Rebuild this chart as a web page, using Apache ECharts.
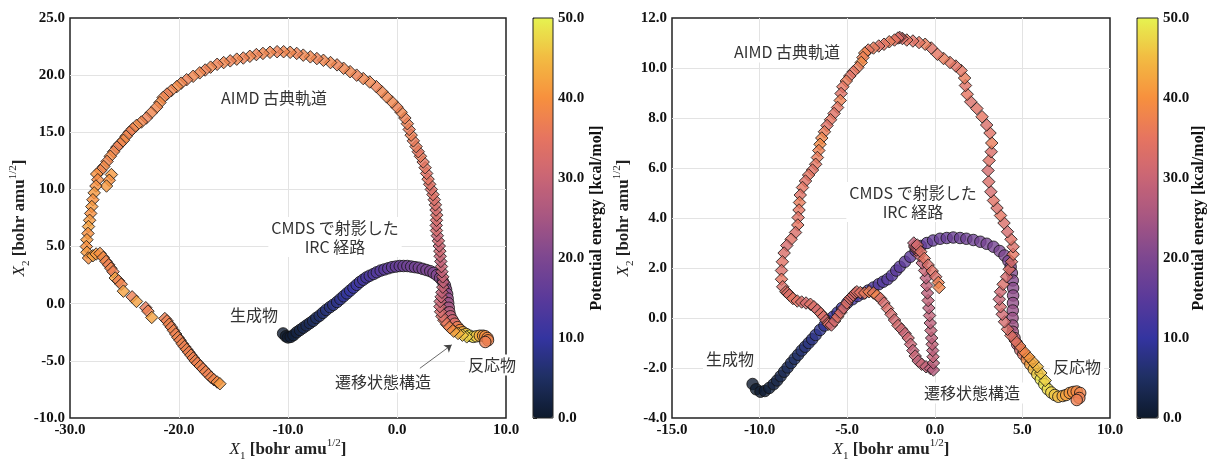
<!DOCTYPE html>
<html>
<head>
<meta charset="utf-8">
<script src="https://cdn.jsdelivr.net/npm/echarts/dist/echarts.min.js"></script>
<style>
html, body { margin: 0; padding: 0; background: #fff; }
#chart { width: 1209px; height: 459px; }
</style>
</head>
<body>
<div id="chart"></div>
<script>
// [X1, X2, potential energy (kcal/mol)]
var ircLeft = [
  [-10.45,-2.6,0.5],[-10.2,-2.85,0.3],[-10.0,-2.95,0.5],[-9.75,-2.9,1],[-9.5,-2.75,1.5],[-9.2,-2.5,2],
  [-8.9,-2.3,2.5],[-8.6,-2.1,3],[-8.3,-1.9,3.5],[-8.0,-1.7,4],[-7.7,-1.5,4.5],[-7.4,-1.25,5],
  [-7.1,-1.05,5.5],[-6.8,-0.8,6],[-6.5,-0.55,6.5],[-6.15,-0.3,7],[-5.85,-0.1,7.5],[-5.5,0.15,8],
  [-5.2,0.4,8.5],[-4.9,0.65,9],[-4.6,0.9,9.5],[-4.3,1.15,10],[-4.0,1.4,10.5],[-3.7,1.65,11],
  [-3.4,1.9,11.5],[-3.1,2.1,12],[-2.8,2.3,12.5],[-2.5,2.45,13],[-2.15,2.6,13.5],[-1.85,2.75,14],
  [-1.5,2.9,14.5],[-1.15,3.0,15],[-0.8,3.1,15.5],[-0.45,3.2,16],[-0.1,3.25,16.5],[0.25,3.3,17],
  [0.6,3.3,17.5],[0.95,3.3,18],[1.3,3.25,18],[1.65,3.2,18.5],[2.0,3.15,19],[2.35,3.05,19],
  [2.7,2.95,19.5],[3.05,2.85,20],[3.35,2.7,20],[3.65,2.5,20.5],[3.95,2.25,21],[4.2,1.95,21],
  [4.4,1.6,21.5],[4.5,1.25,22],[4.6,0.85,22.5],[4.65,0.45,23],[4.7,0.05,24],[4.75,-0.35,25],
  [4.8,-0.75,27],[4.9,-1.1,29],[5.1,-1.45,31],[5.3,-1.75,34],[5.55,-2.05,37],[5.8,-2.3,40],
  [6.05,-2.5,44],[6.35,-2.65,47],[6.65,-2.8,49],[7.0,-2.9,48],[7.3,-2.85,46],[7.6,-2.8,43],
  [7.9,-2.8,41],[8.1,-2.85,40],[8.3,-3.0,39],[8.35,-3.2,38],[8.1,-3.35,37]
];

var aimdLeft = [
  [6.4,-2.9,47],[6.0,-2.75,46],[5.6,-2.6,44],[5.2,-2.4,42],[4.85,-2.1,39],[4.55,-1.8,37],
  [4.3,-1.45,35],[4.12,-1.1,33],[4.0,-0.7,32],[3.94,-0.25,31],[3.96,0.2,30],[4.05,0.6,30],
  [4.12,1.0,29],[4.2,1.45,30],[4.25,1.9,29],[4.2,2.35,30],[4.12,2.8,29],[4.08,3.25,30],
  [4.02,3.7,29],[3.96,4.15,30],[3.93,4.6,31],[3.88,5.05,30],[3.8,5.5,31],[3.7,5.95,30],
  [3.62,6.4,32],[3.6,6.85,31],[3.62,7.3,32],[3.64,7.75,33],[3.58,8.2,32],[3.52,8.65,33],
  [3.42,9.1,33],[3.3,9.55,34],[3.15,10.0,33],[3.0,10.45,34],[2.85,10.9,35],[2.72,11.4,34],
  [2.58,11.9,35],[2.4,12.4,35],[2.15,12.9,36],[1.95,13.3,35],[1.75,13.75,36],[1.5,14.25,36],
  [1.3,14.75,37],[1.12,15.25,36],[0.95,15.75,37],[0.72,16.25,37],[0.38,16.75,38],[0.0,17.2,37],
  [-0.45,17.65,38],[-0.95,18.1,38],[-1.4,18.55,38],[-1.9,19.0,37],[-2.5,19.4,38],[-3.1,19.7,38],
  [-3.7,20.0,37],[-4.3,20.3,38],[-4.9,20.6,38],[-5.5,20.9,37],[-6.1,21.1,38],[-6.75,21.3,38],
  [-7.35,21.45,37],[-7.95,21.6,38],[-8.6,21.75,38],[-9.2,21.9,37],[-9.8,22.0,38],[-10.4,22.05,38],
  [-11.0,22.05,37],[-11.65,22.0,38],[-12.3,21.9,38],[-12.9,21.8,37],[-13.5,21.65,38],[-14.1,21.5,37],
  [-14.7,21.4,38],[-15.3,21.25,37],[-15.9,21.1,38],[-16.5,20.95,37],[-17.1,20.7,38],[-17.6,20.45,37],
  [-18.1,20.2,38],[-18.7,19.9,38],[-19.3,19.6,37],[-19.8,19.3,38],[-20.2,19.0,39],[-20.7,18.65,38],
  [-21.1,18.35,37],[-21.45,18.05,38],[-21.75,17.6,39],[-22.05,17.2,38],[-22.55,16.7,38],[-23.0,16.25,37],
  [-23.45,15.9,38],[-23.9,15.6,39],[-24.25,15.3,38],[-24.55,15.0,37],[-24.85,14.65,38],[-25.1,14.3,39],
  [-25.4,14.0,38],[-25.7,13.7,37],[-26.0,13.3,38],[-26.3,12.9,39],[-26.6,12.45,38],[-26.9,12.0,39],
  [-26.2,11.3,41],[-26.4,10.8,40],[-26.65,10.3,41],[-27.2,11.65,38],[-27.55,11.35,40],[-27.45,10.85,39],
  [-27.62,10.3,40],[-27.78,9.7,41],[-27.9,9.1,40],[-28.0,8.5,41],[-28.1,7.9,40],[-28.2,7.3,41],
  [-28.3,6.75,42],[-28.35,6.15,40],[-28.45,5.6,41],[-28.5,5.0,40],[-28.45,4.5,41],[-28.3,4.0,40],
  [-27.9,4.2,42],[-27.6,4.35,41],[-27.25,4.4,40],[-26.95,4.05,39],[-26.7,3.7,38],[-26.45,3.4,37],
  [-26.25,3.1,38],[-26.05,2.8,37],[-25.85,2.25,42],[-25.55,2.0,37],[-25.3,1.7,38],[-25.1,1.1,42],
  [-24.3,0.6,37],[-23.9,0.2,42],[-23.05,-0.35,36],[-22.85,-0.65,37],[-22.5,-1.2,42],
  [-21.3,-1.3,37],[-21.1,-1.5,37],[-20.9,-1.8,38],[-20.7,-2.05,37],[-20.5,-2.35,38],[-20.3,-2.65,37],
  [-20.1,-2.95,38],[-19.9,-3.2,37],[-19.7,-3.5,38],[-19.5,-3.75,37],[-19.3,-4.0,38],[-19.1,-4.25,37],
  [-18.9,-4.5,38],[-18.7,-4.75,37],[-18.5,-5.0,38],[-18.3,-5.2,37],[-18.05,-5.45,38],[-17.8,-5.7,37],
  [-17.55,-5.95,38],[-17.3,-6.2,37],[-17.05,-6.45,38],[-16.8,-6.65,38],[-16.5,-6.85,39],[-16.25,-7.0,41]
];

var ircRight = [
  [-10.4,-2.64,0.5],[-10.2,-2.85,0.3],[-9.95,-2.95,0.5],[-9.7,-2.92,1],[-9.45,-2.8,1.5],[-9.2,-2.65,2],
  [-9.0,-2.5,2.5],[-8.8,-2.33,3],[-8.6,-2.15,3.5],[-8.4,-1.98,4],[-8.2,-1.8,4.5],[-8.0,-1.63,5],
  [-7.8,-1.47,5.5],[-7.6,-1.3,6],[-7.4,-1.15,6.5],[-7.2,-1.0,7],[-7.0,-0.85,7.5],[-6.8,-0.68,8],
  [-6.55,-0.48,8.5],[-6.3,-0.3,9],[-6.05,-0.12,9.5],[-5.8,0.05,10],[-5.55,0.22,10.5],[-5.3,0.4,11],
  [-5.0,0.6,11.5],[-4.7,0.75,12],[-4.4,0.88,12.5],[-4.1,0.98,13],[-3.8,1.1,13],[-3.5,1.22,13.5],
  [-3.2,1.35,14],[-2.95,1.45,14],[-2.7,1.55,14.5],[-2.45,1.7,14.5],[-2.2,1.9,15],[-2.0,2.05,15],
  [-1.7,2.25,15.5],[-1.4,2.45,15.5],[-1.1,2.7,16],[-0.8,2.88,16],[-0.45,3.0,16.5],[-0.1,3.1,16.5],
  [0.3,3.17,17],[0.68,3.2,17],[1.05,3.22,17.5],[1.44,3.2,17.5],[1.8,3.17,18],[2.2,3.12,18],
  [2.6,3.05,18.5],[2.96,2.97,19],[3.35,2.85,19],[3.7,2.68,19.5],[3.98,2.5,20],[4.2,2.28,20],
  [4.33,2.05,20.5],[4.4,1.8,21],[4.45,1.5,21],[4.47,1.2,21.5],[4.47,0.9,22],[4.46,0.6,22.5],
  [4.45,0.3,23],[4.44,0.0,23.5],[4.44,-0.3,24],[4.45,-0.55,25],[4.55,-0.8,27],[4.7,-1.05,29],
  [4.88,-1.28,32],[5.05,-1.45,35],[5.25,-1.65,39],[5.45,-1.85,42],[5.65,-2.05,45],[5.85,-2.25,47],
  [6.05,-2.45,49],[6.25,-2.65,49],[6.45,-2.85,48],[6.65,-2.98,47],[6.85,-3.08,46],[7.05,-3.15,45],
  [7.3,-3.12,43],[7.5,-3.08,42],[7.7,-3.0,41],[7.9,-2.96,40],[8.1,-2.94,39],[8.3,-3.0,38],
  [8.25,-3.2,37],[8.1,-3.28,37]
];

var aimdRight = [
  [6.3,-2.5,47],[6.05,-2.2,46],[5.85,-1.95,45],[5.6,-1.75,43],[5.35,-1.55,41],[5.1,-1.35,39],
  [4.85,-1.12,37],[4.6,-0.92,35],[4.35,-0.7,34],[4.15,-0.45,33],[3.98,-0.15,32],[3.85,0.15,31],
  [3.75,0.45,32],[3.68,0.75,30],[3.75,1.05,31],[3.9,1.35,33],[4.1,1.65,32],[4.25,1.95,34],
  [4.38,2.25,33],[4.47,2.55,35],[4.47,2.85,33],[4.35,3.15,34],[4.15,3.45,32],[3.95,3.8,33],
  [3.75,4.1,35],[3.55,4.4,33],[3.35,4.7,34],[3.2,5.05,32],[3.08,5.45,33],[3.04,5.9,32],
  [3.1,6.3,34],[3.22,6.65,33],[3.25,7.0,36],[3.15,7.4,34],[2.96,7.72,33],[2.7,8.05,35],
  [2.4,8.38,34],[2.05,8.65,33],[1.85,8.95,35],[1.75,9.3,34],[1.7,9.6,36],[1.5,9.9,35],
  [1.2,10.08,34],[0.87,10.22,35],[0.5,10.38,36],[0.15,10.55,35],[-0.2,10.8,34],[-0.55,10.95,36],
  [-0.9,11.02,35],[-1.25,11.08,34],[-1.6,11.12,35],[-1.85,11.18,33],[-2.0,11.22,32],[-2.1,11.2,33],
  [-2.3,11.12,35],[-2.6,11.05,36],[-2.9,10.95,35],[-3.2,10.88,34],[-3.5,10.8,36],[-3.8,10.72,35],
  [-4.0,10.6,38],[-4.1,10.42,37],[-4.2,10.22,39],[-4.4,10.02,36],[-4.65,9.85,35],[-4.85,9.68,34],
  [-5.05,9.48,36],[-5.25,9.25,35],[-5.35,8.98,34],[-5.4,8.7,37],[-5.55,8.42,35],[-5.75,8.18,34],
  [-5.95,7.93,35],[-6.15,7.7,34],[-6.3,7.45,36],[-6.45,7.2,38],[-6.55,6.95,39],[-6.62,6.7,37],
  [-6.7,6.42,36],[-6.8,6.15,35],[-6.98,5.92,34],[-7.2,5.72,35],[-7.38,5.48,34],[-7.55,5.22,35],
  [-7.68,4.92,34],[-7.72,4.62,36],[-7.75,4.32,35],[-7.8,4.02,34],[-7.82,3.72,35],[-7.95,3.42,33],
  [-8.2,3.15,34],[-8.45,2.9,32],[-8.6,2.6,33],[-8.7,2.25,34],[-8.75,1.9,33],[-8.75,1.55,35],
  [-8.68,1.25,33],[-8.5,1.05,34],[-8.4,1.0,33],[-8.3,0.92,33],[-8.1,0.78,35],[-7.85,0.68,34],
  [-7.6,0.64,33],[-7.35,0.6,32],[-7.1,0.55,34],[-6.9,0.45,33],[-6.7,0.32,32],[-6.5,0.18,34],
  [-6.35,0.05,33],[-6.2,-0.1,32],[-6.1,-0.2,33],[-6.05,-0.25,33],[-5.9,-0.28,31],[-5.72,-0.12,32],
  [-5.55,0.05,34],[-5.38,0.22,33],[-5.2,0.4,32],[-5.02,0.6,34],[-4.85,0.78,33],[-4.75,0.85,32],
  [-4.65,0.92,32],[-4.55,1.0,33],[-4.45,1.05,33],[-4.25,1.02,34],[-4.0,1.0,36],[-3.75,1.05,37],
  [-3.5,1.0,36],[-3.3,0.9,38],[-3.1,0.78,33],[-2.9,0.6,32],[-2.7,0.38,33],[-2.5,0.15,32],
  [-2.3,-0.08,31],[-2.1,-0.3,32],[-1.9,-0.45,31],[-1.7,-0.62,30],[-1.52,-0.8,31],[-1.38,-1.05,30],
  [-1.25,-1.3,29],[-1.12,-1.52,30],[-0.95,-1.72,29],[-0.75,-1.85,30],[-0.5,-1.95,29],[-0.25,-2.02,28],
  [-0.08,-2.08,27],[-0.08,-1.8,28],[-0.1,-1.55,29],[-0.12,-1.3,28],[-0.15,-1.05,29],[-0.18,-0.8,28],
  [-0.22,-0.5,29],[-0.26,-0.2,28],[-0.3,0.1,29],[-0.34,0.4,28],[-0.38,0.7,29],[-0.42,1.0,28],
  [-0.46,1.3,29],[-0.5,1.6,28],[-0.58,1.9,30],[-0.72,2.2,29],[-0.88,2.5,30],[-1.05,2.72,31],
  [-1.12,2.82,30],[-1.15,2.88,30],[-1.2,3.0,29],[-1.0,2.92,32],[-0.8,2.65,34],[-0.6,2.38,35],
  [-0.38,2.12,33],[-0.15,1.88,34],[0.05,1.65,33],[0.2,1.42,37],[0.25,1.22,38]
];

// colour scale of the colour bars, 0 -> 50 kcal/mol
var energyColors = ['#0d1a2b', '#1f2f62', '#3434a0', '#5a3a9a', '#7d4790', '#a65682',
                    '#c96575', '#e67460', '#f7903e', '#f2bb42', '#e6f250'];

var arrowFrom = [2.1, -5.65];
var arrowTo = [5.02, -3.6];

var serif = 'Liberation Serif';

function tickLabel() {
  return {
    fontFamily: serif, fontWeight: 'bold', fontSize: 15, color: '#111', margin: 5,
    formatter: function (v) { return v.toFixed(1); }
  };
}

var nameRich = {
  i: { fontFamily: serif, fontStyle: 'italic', fontSize: 17, lineHeight: 24, color: '#222' },
  s: { fontFamily: serif, fontSize: 11, lineHeight: 12, verticalAlign: 'bottom', color: '#222' },
  b: { fontFamily: serif, fontWeight: 'bold', fontSize: 17, lineHeight: 24, color: '#222' },
  p: { fontFamily: serif, fontSize: 11, lineHeight: 12, verticalAlign: 'top', color: '#222' }
};

function plotAxis(grid, min, max, step, name, gap) {
  return {
    gridIndex: grid, type: 'value', min: min, max: max, interval: step,
    axisLine: { show: false }, axisTick: { show: false },
    splitLine: { show: true, showMinLine: false, showMaxLine: false, lineStyle: { color: '#e3e3e3', width: 1 } },
    axisLabel: tickLabel(),
    name: name, nameLocation: 'middle', nameGap: gap, nameMoveOverlap: false,
    nameTextStyle: { rich: nameRich }
  };
}

function barAxis(grid, gap) {
  return {
    gridIndex: grid, type: 'value', position: 'right', min: 0, max: 50, interval: 10,
    axisLine: { show: false },
    axisTick: { show: true, length: 4, lineStyle: { color: '#222' } },
    splitLine: { show: false },
    axisLabel: tickLabel(),
    name: 'Potential energy [kcal/mol]', nameLocation: 'middle', nameRotate: 90, nameGap: gap,
    nameMoveOverlap: false,
    nameTextStyle: { fontFamily: serif, fontWeight: 'bold', fontSize: 16, color: '#111' }
  };
}

function note(text, x, y) {
  return {
    type: 'text', x: x, y: y, z: 100, silent: true,
    style: {
      text: text, fill: '#333', font: '16px "Noto Sans CJK JP"', align: 'center',
      verticalAlign: 'middle', lineHeight: 19, backgroundColor: '#fff', padding: [1, 3]
    }
  };
}

var xName = '{i|X}{s|1}{b| [bohr amu}{p|1/2}{b|]}';
var yName = '{i|X}{s|2}{b| [bohr amu}{p|1/2}{b|]}';

var frame = { show: true, borderColor: '#222', borderWidth: 1.5, backgroundColor: 'transparent', outerBoundsMode: 'none', containLabel: false };

var option = {
  animation: false,
  backgroundColor: '#fff',
  grid: [
    Object.assign({ left: 70, top: 18, width: 436, height: 400 }, frame),
    Object.assign({ left: 672, top: 18, width: 438, height: 400 }, frame),
    { left: 533, top: 18, width: 20, height: 400, show: true, borderColor: '#222', borderWidth: 1,
      backgroundColor: 'transparent', z: 10, outerBoundsMode: 'none' },
    { left: 1137, top: 18, width: 21, height: 400, show: true, borderColor: '#222', borderWidth: 1,
      backgroundColor: 'transparent', z: 10, outerBoundsMode: 'none' }
  ],
  xAxis: [
    plotAxis(0, -30, 10, 10, xName, 20),
    plotAxis(1, -15, 10, 5, xName, 20),
    { gridIndex: 2, type: 'value', show: false },
    { gridIndex: 3, type: 'value', show: false }
  ],
  yAxis: [
    Object.assign(plotAxis(0, -10, 25, 5, yName, 38), { nameRotate: 90 }),
    Object.assign(plotAxis(1, -4, 12, 2, yName, 36), { nameRotate: 90 }),
    barAxis(2, 36),
    barAxis(3, 33)
  ],
  visualMap: [
    { type: 'continuous', min: 0, max: 50, dimension: 2, seriesIndex: [0, 1], inRange: { color: energyColors },
      calculable: false, hoverLink: false, left: 533, top: 18, itemWidth: 20, itemHeight: 400, padding: 0 },
    { type: 'continuous', min: 0, max: 50, dimension: 2, seriesIndex: [2, 3], inRange: { color: energyColors },
      calculable: false, hoverLink: false, left: 1137, top: 18, itemWidth: 21, itemHeight: 400, padding: 0 }
  ],
  series: [
    { type: 'scatter', xAxisIndex: 0, yAxisIndex: 0, data: ircLeft, symbol: 'circle', symbolSize: 11.5,
      itemStyle: { borderColor: '#111', borderWidth: 1 },
      markLine: {
        silent: true, symbol: ['none', 'arrow'], symbolSize: 7, label: { show: false },
        lineStyle: { color: '#444', width: 0.8, type: 'solid' },
        data: [[{ coord: arrowFrom }, { coord: arrowTo }]]
      } },
    { type: 'scatter', xAxisIndex: 0, yAxisIndex: 0, data: aimdLeft, symbol: 'diamond', symbolSize: 12.5,
      itemStyle: { borderColor: '#111', borderWidth: 1 } },
    { type: 'scatter', xAxisIndex: 1, yAxisIndex: 1, data: ircRight, symbol: 'circle', symbolSize: 11.5,
      itemStyle: { borderColor: '#111', borderWidth: 1 } },
    { type: 'scatter', xAxisIndex: 1, yAxisIndex: 1, data: aimdRight, symbol: 'diamond', symbolSize: 12.5,
      itemStyle: { borderColor: '#111', borderWidth: 1 } }
  ],
  graphic: [
    note('AIMD 古典軌道', 274, 98),
    note('CMDS で射影した\nIRC 経路', 335, 237),
    note('生成物', 254, 315),
    note('遷移状態構造', 383, 382),
    note('反応物', 492, 365),
    note('AIMD 古典軌道', 787, 52),
    note('CMDS で射影した\nIRC 経路', 913, 202),
    note('生成物', 730, 359),
    note('遷移状態構造', 972, 393),
    note('反応物', 1077, 367)
  ]
};

var chart = echarts.init(document.getElementById('chart'));
chart.setOption(option);
</script>
</body>
</html>
